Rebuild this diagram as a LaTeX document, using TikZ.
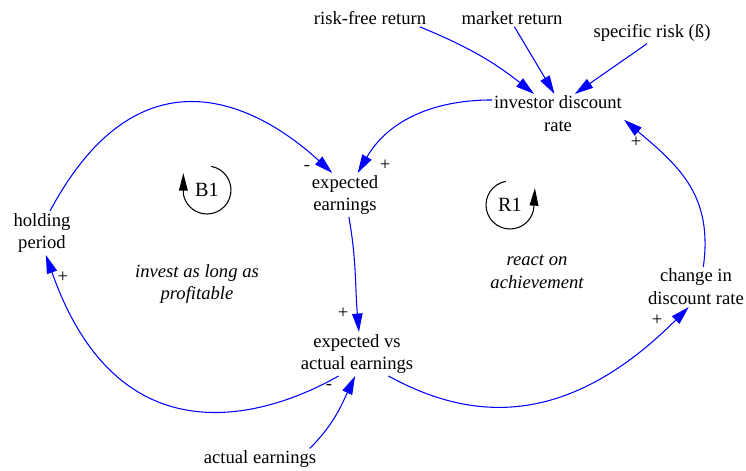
\documentclass[tikz,border=0pt]{standalone}
\usepackage{fontspec}
\setmainfont{Liberation Serif}
\usepackage{tikz}
\usetikzlibrary{arrows.meta}

\begin{document}
\begin{tikzpicture}[x=0.02cm,y=0.02cm,
  var/.style={align=center,inner sep=1pt,font=\fontsize{10.6}{13}\selectfont},
  note/.style={var,font=\fontsize{10.6}{13}\selectfont\itshape},
  sign/.style={inner sep=0pt,font=\fontsize{10.6}{13}\selectfont},
  link/.style={blue,line width=0.6pt,-{Triangle[length=10.5pt,width=6pt]}},
  loopmark/.style={circle,minimum size=0.96cm,inner sep=0pt,outer sep=0pt,font=\fontsize{11.5}{13}\selectfont},
  looparrow/.style={line width=0.6pt,-{Triangle[length=10pt,width=5pt]}}]
\useasboundingbox (0,0) rectangle (746,470);
\node[var] (rfr) at (370,452) {risk-free return};
\node[var] (mr) at (512,452) {market return};
\node[var] (sr) at (652,437) {specific risk (ß)};
\node[var] (idr) at (558,356) {investor discount\\rate};
\node[var] (ee) at (345,275) {expected\\earnings};
\node[var] (hp) at (42,237) {holding\\period};
\node[var] (eva) at (357,116) {expected vs\\actual earnings};
\node[var] (cdr) at (696,183) {change in\\discount rate};
\node[var] (ae) at (260,11) {actual earnings};
\node[note] (inv) at (197,186) {invest as long as\\profitable};
\node[note] (rea) at (537,198) {react on\\achievement};
\draw[link] (rfr.-10) to[bend left=8] (idr.140);
\draw[link] (mr.-75) -- (idr.100);
\draw[link] (sr.-115) -- (idr.50);
\draw[link] (idr.168) to[out=180,in=60] (ee.60);
\draw[link] (hp.70) .. controls +(91,170) and +(-73,67) .. (ee.120);
\draw[link] (ee.-80) to[out=-80,in=95] (eva.85);
\draw[link] (eva.-130) .. controls +(-30,-17) and +(83,-236) .. (hp.-80);
\draw[link] (ae.12) to[out=45,in=-115] (eva.-95);
\draw[link] (eva.-35) .. controls +(80,-44) and +(-124,-124) .. (cdr.-110);
\draw[link] (cdr.70) to[out=82,in=-40,looseness=1.1] (idr.-5);
\node[sign] (s1) at (307,302) {-};
\node[sign] (s2) at (385,305) {+};
\node[sign] (s3) at (63,193) {+};
\node[sign] (s4) at (343,157) {+};
\node[sign] (s5) at (329,83) {-};
\node[sign] (s6) at (657,150) {+};
\node[sign] (s7) at (636,328) {+};
\node[loopmark] (b1) at (207,280) {B1};
\draw[looparrow] (b1.80) arc[start angle=80,end angle=-170,radius=0.48cm] -- +(0,21);
\node[loopmark] (r1) at (510,265) {R1};
\draw[looparrow] (r1.100) arc[start angle=100,end angle=355,radius=0.48cm] -- +(1,19);
\end{tikzpicture}
\end{document}
